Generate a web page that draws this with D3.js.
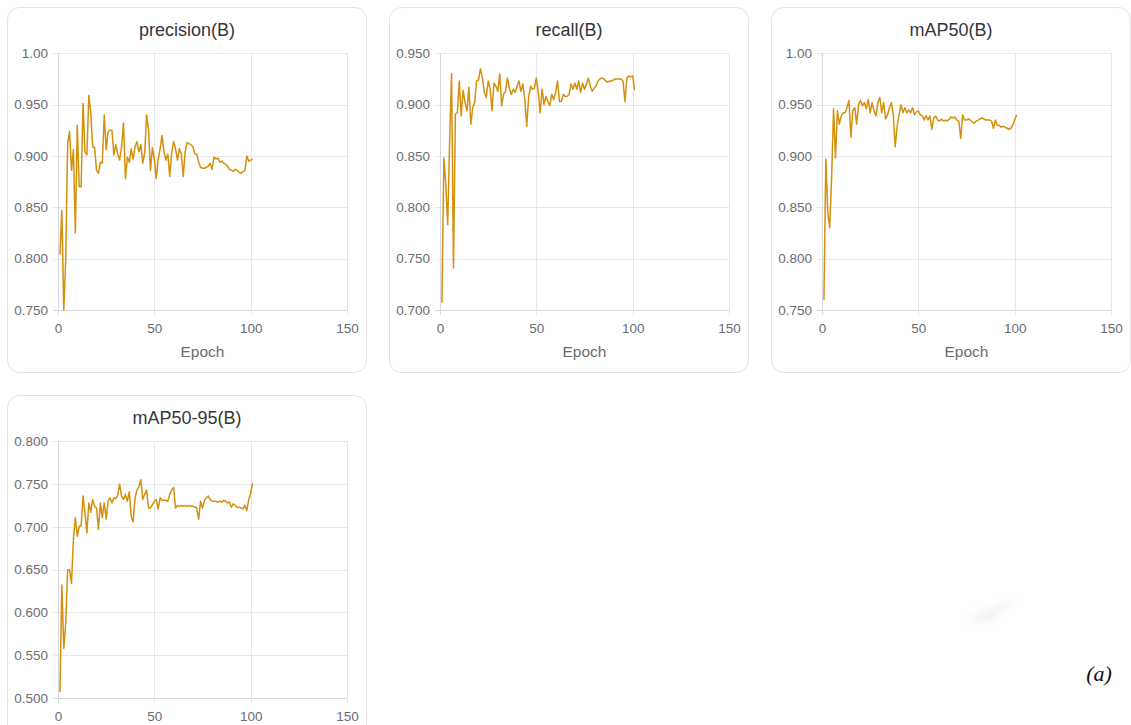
<!DOCTYPE html>
<html>
<head>
<meta charset="utf-8">
<script src="https://cdn.jsdelivr.net/npm/d3@7"></script>
<style>
  html, body { margin: 0; padding: 0; background: #ffffff; }
  svg { display: block; }
</style>
</head>
<body>
<svg id="chart" width="1131" height="725"></svg>
<script>
// Training metrics per epoch (YOLO run, 101 epochs)
const epochs = d3.range(1, 102);

const precision = [
  0.804, 0.847, 0.750, 0.799, 0.912, 0.924, 0.886, 0.906, 0.825, 0.930,
  0.870, 0.870, 0.951, 0.904, 0.901, 0.959, 0.942, 0.909, 0.908, 0.886,
  0.883, 0.894, 0.893, 0.940, 0.906, 0.924, 0.925, 0.925, 0.901, 0.911,
  0.902, 0.896, 0.909, 0.932, 0.878, 0.899, 0.894, 0.907, 0.897, 0.909,
  0.914, 0.904, 0.911, 0.893, 0.903, 0.940, 0.925, 0.886, 0.908, 0.897,
  0.878, 0.897, 0.907, 0.920, 0.904, 0.896, 0.902, 0.880, 0.903, 0.914,
  0.907, 0.896, 0.907, 0.902, 0.880, 0.904, 0.913, 0.912, 0.911, 0.909,
  0.902, 0.902, 0.894, 0.889, 0.888, 0.888, 0.889, 0.890, 0.893, 0.887,
  0.899, 0.897, 0.898, 0.894, 0.895, 0.893, 0.892, 0.890, 0.887, 0.886,
  0.885, 0.887, 0.886, 0.884, 0.883, 0.885, 0.886, 0.900, 0.895, 0.896,
  0.897
];

const recall = [
  0.707, 0.848, 0.822, 0.783, 0.865, 0.930, 0.741, 0.891, 0.892, 0.923,
  0.889, 0.914, 0.902, 0.894, 0.917, 0.881, 0.897, 0.902, 0.923, 0.924,
  0.935, 0.926, 0.912, 0.907, 0.923, 0.916, 0.894, 0.921, 0.918, 0.913,
  0.930, 0.899, 0.910, 0.913, 0.926, 0.916, 0.910, 0.915, 0.912, 0.918,
  0.923, 0.913, 0.920, 0.905, 0.879, 0.907, 0.918, 0.915, 0.916, 0.926,
  0.912, 0.892, 0.915, 0.900, 0.908, 0.903, 0.899, 0.910, 0.905, 0.912,
  0.923, 0.903, 0.903, 0.910, 0.908, 0.908, 0.910, 0.920, 0.915, 0.921,
  0.915, 0.923, 0.912, 0.921, 0.915, 0.920, 0.926, 0.918, 0.913, 0.916,
  0.918, 0.923, 0.925, 0.926, 0.925, 0.923, 0.922, 0.923, 0.923, 0.924,
  0.925, 0.925, 0.925, 0.925, 0.923, 0.903, 0.926, 0.928, 0.927, 0.928,
  0.914
];

const map50 = [
  0.760, 0.897, 0.845, 0.830, 0.879, 0.946, 0.898, 0.944, 0.931, 0.939,
  0.942, 0.942, 0.947, 0.954, 0.918, 0.944, 0.947, 0.931, 0.950, 0.954,
  0.949, 0.952, 0.946, 0.955, 0.942, 0.952, 0.944, 0.939, 0.952, 0.957,
  0.942, 0.952, 0.936, 0.940, 0.947, 0.952, 0.940, 0.909, 0.929, 0.940,
  0.950, 0.942, 0.947, 0.942, 0.945, 0.942, 0.947, 0.940, 0.943, 0.944,
  0.940, 0.939, 0.935, 0.939, 0.935, 0.939, 0.926, 0.937, 0.939, 0.935,
  0.934, 0.936, 0.934, 0.935, 0.934, 0.936, 0.938, 0.937, 0.938, 0.935,
  0.934, 0.917, 0.940, 0.935, 0.935, 0.936, 0.935, 0.933, 0.932, 0.934,
  0.935, 0.936, 0.937, 0.936, 0.935, 0.935, 0.935, 0.934, 0.927, 0.935,
  0.930, 0.930, 0.928, 0.929, 0.928, 0.927, 0.926, 0.927, 0.930, 0.935,
  0.940
];

const map5095 = [
  0.507, 0.632, 0.558, 0.587, 0.650, 0.650, 0.634, 0.685, 0.711, 0.689,
  0.701, 0.701, 0.736, 0.717, 0.693, 0.728, 0.717, 0.732, 0.724, 0.722,
  0.697, 0.728, 0.711, 0.728, 0.709, 0.730, 0.734, 0.728, 0.734, 0.733,
  0.737, 0.750, 0.736, 0.732, 0.738, 0.730, 0.741, 0.712, 0.706, 0.734,
  0.743, 0.747, 0.755, 0.732, 0.738, 0.743, 0.722, 0.722, 0.726, 0.730,
  0.732, 0.721, 0.734, 0.731, 0.731, 0.731, 0.730, 0.738, 0.743, 0.746,
  0.722, 0.725, 0.724, 0.725, 0.724, 0.725, 0.724, 0.725, 0.724, 0.724,
  0.723, 0.722, 0.709, 0.730, 0.722, 0.731, 0.734, 0.736, 0.732, 0.730,
  0.730, 0.730, 0.729, 0.730, 0.729, 0.731, 0.730, 0.728, 0.729, 0.723,
  0.727, 0.725, 0.723, 0.723, 0.722, 0.721, 0.725, 0.719, 0.732, 0.739,
  0.751
];

// Axis ticks
const xTicks = [0, 50, 100, 150];
const xTickLabels = ["0", "50", "100", "150"];
const precisionTicks = [0.75, 0.80, 0.85, 0.90, 0.95, 1.00];
const precisionTickLabels = ["0.750", "0.800", "0.850", "0.900", "0.950", "1.00"];
const recallTicks = [0.70, 0.75, 0.80, 0.85, 0.90, 0.95];
const recallTickLabels = ["0.700", "0.750", "0.800", "0.850", "0.900", "0.950"];
const map50Ticks = [0.75, 0.80, 0.85, 0.90, 0.95, 1.00];
const map50TickLabels = ["0.750", "0.800", "0.850", "0.900", "0.950", "1.00"];
const map5095Ticks = [0.50, 0.55, 0.60, 0.65, 0.70, 0.75, 0.80];
const map5095TickLabels = ["0.500", "0.550", "0.600", "0.650", "0.700", "0.750", "0.800"];

const titles = ["precision(B)", "recall(B)", "mAP50(B)", "mAP50-95(B)"];
const xLabel = "Epoch";

const panels = [
  { title: titles[0], values: precision, ticks: precisionTicks, labels: precisionTickLabels, col: 0, row: 0 },
  { title: titles[1], values: recall, ticks: recallTicks, labels: recallTickLabels, col: 1, row: 0 },
  { title: titles[2], values: map50, ticks: map50Ticks, labels: map50TickLabels, col: 2, row: 0 },
  { title: titles[3], values: map5095, ticks: map5095Ticks, labels: map5095TickLabels, col: 0, row: 1 }
];

const FONT = "'Liberation Sans', Arial, Helvetica, sans-serif";
const LINE_COLOR = "#d4900c";
const GRID_COLOR = "#e6e6ea";
const AXIS_COLOR = "#d8d8dd";
const TICK_TEXT = "#6b6b70";

const W = 1131, H = 725;
const card = { w: 360, h: 366, gapX: 382, gapY: 388, x0: 7, y0: 7, r: 12 };
const plot = { left: 51, right: 340, top: 46.3, bottom: 303 };

const svg = d3.select("#chart");

const defs = svg.append("defs");
defs.append("filter").attr("id", "soft")
  .attr("x", "-50%").attr("y", "-50%").attr("width", "200%").attr("height", "200%")
  .append("feGaussianBlur").attr("stdDeviation", 3);

panels.forEach(p => {
  const cx = card.x0 + p.col * card.gapX;
  const cy = card.y0 + p.row * card.gapY;
  const g = svg.append("g").attr("transform", `translate(${cx},${cy})`);

  g.append("rect")
    .attr("x", 0.5).attr("y", 0.5)
    .attr("width", card.w - 1).attr("height", card.h - 1)
    .attr("rx", card.r).attr("ry", card.r)
    .attr("fill", "#ffffff")
    .attr("stroke", "#e2e2e6")
    .attr("stroke-width", 1);

  g.append("text")
    .attr("x", card.w / 2).attr("y", 29)
    .attr("text-anchor", "middle")
    .attr("font-family", FONT)
    .attr("font-size", 18)
    .attr("fill", "#33363b")
    .text(p.title);

  const x = d3.scaleLinear().domain([0, 150]).range([plot.left, plot.right]);
  const y = d3.scaleLinear().domain(d3.extent(p.ticks)).range([plot.bottom, plot.top]);

  // Horizontal grid with short tick marks on the left
  const yAxis = d3.axisLeft(y)
    .tickValues(p.ticks)
    .tickFormat((d, i) => p.labels[i])
    .tickSize(-(plot.right - plot.left) - 5)
    .tickPadding(6);
  const yg = g.append("g")
    .attr("transform", `translate(${plot.left - 5},0)`)
    .call(yAxis);
  yg.select(".domain").remove();
  yg.selectAll(".tick line")
    .attr("stroke", (d, i) => i === 0 ? AXIS_COLOR : GRID_COLOR)
    .attr("shape-rendering", "crispEdges");
  yg.selectAll(".tick text")
    .attr("font-family", FONT)
    .attr("font-size", 13.5)
    .attr("fill", TICK_TEXT)
    .attr("x", -5);

  // Vertical grid with short tick marks below
  const xAxis = d3.axisBottom(x)
    .tickValues(xTicks)
    .tickFormat((d, i) => xTickLabels[i])
    .tickSize(-(plot.bottom - plot.top) - 5)
    .tickPadding(8);
  const xg = g.append("g")
    .attr("transform", `translate(0,${plot.bottom + 5})`)
    .call(xAxis);
  xg.select(".domain").remove();
  xg.selectAll(".tick line")
    .attr("stroke", (d, i) => i === 0 ? AXIS_COLOR : GRID_COLOR)
    .attr("shape-rendering", "crispEdges");
  xg.selectAll(".tick text")
    .attr("font-family", FONT)
    .attr("font-size", 13.5)
    .attr("fill", TICK_TEXT)
    .attr("y", 8);

  // Axis title, only where it falls inside the canvas
  const labelY = plot.bottom + 47;
  if (cy + labelY < H) {
    g.append("text")
      .attr("x", (plot.left + plot.right) / 2)
      .attr("y", labelY)
      .attr("text-anchor", "middle")
      .attr("font-family", FONT)
      .attr("font-size", 15.5)
      .attr("fill", TICK_TEXT)
      .text(xLabel);
  }

  const line = d3.line()
    .x((d, i) => x(epochs[i]))
    .y(d => y(d));

  g.append("path")
    .datum(p.values)
    .attr("d", line)
    .attr("fill", "none")
    .attr("stroke", LINE_COLOR)
    .attr("stroke-width", 1.5)
    .attr("stroke-linejoin", "round");
});

// Faint brush mark in the empty area
svg.append("path")
  .attr("d", "M968,620 C984,611 1000,603 1018,599 C1008,606 999,613 993,619 C985,622 976,622 968,620 Z")
  .attr("fill", "#eeeeee")
  .attr("opacity", 0.7)
  .attr("filter", "url(#soft)");

// Figure label
svg.append("text")
  .attr("x", 1099).attr("y", 681)
  .attr("text-anchor", "middle")
  .attr("font-family", "'Liberation Serif', 'Times New Roman', serif")
  .attr("font-style", "italic")
  .attr("font-size", 22)
  .attr("fill", "#111")
  .text("(a)");
</script>
</body>
</html>
